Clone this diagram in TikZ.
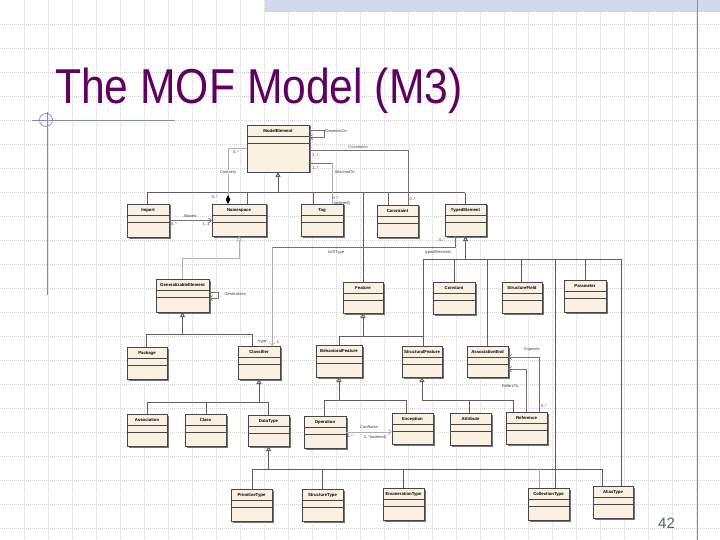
\documentclass[tikz,border=0pt]{standalone}
\usepackage{fontspec}
\setmainfont{Liberation Sans}
\usetikzlibrary{arrows.meta,calc}
\definecolor{boxfill}{RGB}{250,241,226}
\definecolor{boxline}{RGB}{70,70,70}
\definecolor{genline}{RGB}{95,95,95}
\definecolor{asline}{RGB}{115,115,115}
\definecolor{lightline}{RGB}{175,175,175}
\definecolor{gridc}{RGB}{212,212,212}
\definecolor{titlec}{RGB}{96,0,96}
\definecolor{slate}{RGB}{125,140,185}
\definecolor{bandc}{RGB}{208,218,236}
\definecolor{pagec}{RGB}{85,95,120}
\tikzset{
 umlbox/.style={draw=boxline, fill=boxfill, line width=0.7pt, inner sep=0pt, outer sep=0pt, rectangle},
 boxshadow/.style={fill=black!55},
 divider/.style={draw=boxline, line width=0.6pt},
 btitle/.style={font=\fontsize{4.3}{5}\selectfont\bfseries, inner sep=0pt, text=black},
 gen/.style={draw=genline, line width=1pt},
 asc/.style={draw=asline, line width=0.7pt},
 lasc/.style={draw=lightline, line width=0.7pt},
 gentip/.style={-{Triangle[fill=white, length=5pt, width=5pt]}},
 navtip/.style={-{Straight Barb[length=3pt, width=5pt]}},
 lbl/.style={font=\fontsize{4}{4.5}\selectfont, inner sep=0.3pt, text=black!75},
 gridl/.style={draw=gridc, line width=0.5pt, dash pattern=on 0.7pt off 1.3pt},
}
\newcommand{\umlcls}[6]{%
 \fill[boxshadow] (#2+1.5,#3+1.5) rectangle (#4+1.5,#5+1.5);
 \node[umlbox, anchor=north west, minimum width={(#4-#2)*1pt}, minimum height={(#5-#3)*1pt}] (#1) at (#2,#3) {};
 \draw[divider] ([yshift=-11.5pt]#1.north west) -- ([yshift=-11.5pt]#1.north east);
 \draw[divider] ([yshift=-18pt]#1.north west) -- ([yshift=-18pt]#1.north east);
 \node[btitle] (#1-t) at ([yshift=-6pt]#1.north) {#6};
}
\begin{document}
\begin{tikzpicture}[x=1pt, y=-1pt]
\useasboundingbox (0,0) rectangle (720,540);
\fill[white] (0,0) rectangle (720,540);
% grid
\foreach \gx in {24,48,...,696} \draw[gridl] (\gx,0) -- (\gx,540);
\foreach \gy in {24,48,...,528} \draw[gridl] (0,\gy) -- (720,\gy);
% top band and slide decorations
\fill[bandc] (265,0) rectangle (720,12);
\draw[slate, line width=1pt] (697,0) -- (697,540);
\draw[slate, line width=0.9pt] (32,120) -- (175,120);
\draw[slate, line width=0.9pt] (47,112) -- (47,295);
\draw[slate, line width=0.7pt] (46,120) circle (6.5);
% title and page number
\node[anchor=base west, inner sep=0pt, text=titlec, font=\fontsize{49}{58}\selectfont] (title) at (55,104) {\scalebox{0.87}[1]{The MOF Model (M3)}};
\node[anchor=base west, inner sep=0pt, text=pagec, font=\fontsize{15}{18}\selectfont] (pnum) at (658,528) {42};
% classes
\umlcls{ModelElement}{247}{125}{309}{172}{ModelElement}
\umlcls{Import}{127}{204}{169}{237}{Import}
\umlcls{Namespace}{212}{204}{266}{236}{Namespace}
\umlcls{Tag}{301}{204}{343}{236}{Tag}
\umlcls{Constraint}{377}{205}{418}{237}{Constraint}
\umlcls{TypedElement}{445}{204}{486}{236}{TypedElement}
\umlcls{GeneralizableElement}{156}{279}{209}{312}{GeneralizableElement}
\umlcls{Feature}{343}{282}{383}{313}{Feature}
\umlcls{Constant}{433}{282}{475}{314}{Constant}
\umlcls{StructureField}{502}{282}{542}{313}{StructureField}
\umlcls{Parameter}{564}{280}{606}{312}{Parameter}
\umlcls{Package}{127}{347}{167}{379}{Package}
\umlcls{Classifier}{238}{346}{280}{379}{Classifier}
\umlcls{BehavioralFeature}{316}{345}{362}{377}{BehavioralFeature}
\umlcls{StructuralFeature}{402}{346}{442}{377}{StructuralFeature}
\umlcls{AssociationEnd}{467}{346}{508}{377}{AssociationEnd}
\umlcls{Association}{127}{414}{167}{446}{Association}
\umlcls{Class}{185}{414}{226}{446}{Class}
\umlcls{DataType}{248}{415}{289}{446}{DataType}
\umlcls{Operation}{304}{416}{346}{448}{Operation}
\umlcls{Exception}{392}{413}{433}{444}{Exception}
\umlcls{Attribute}{450}{413}{491}{445}{Attribute}
\umlcls{Reference}{506}{412}{547}{444}{Reference}
\umlcls{PrimitiveType}{231}{489}{272}{521}{PrimitiveType}
\umlcls{StructureType}{302}{489}{343}{521}{StructureType}
\umlcls{EnumerationType}{383}{488}{424}{520}{EnumerationType}
\umlcls{CollectionType}{528}{488}{569}{520}{CollectionType}
\umlcls{AliasType}{593}{486}{633}{518}{AliasType}
% ModelElement generalization
\coordinate (gMeL) at (147,193);
\coordinate (gMe) at (278,193);
\coordinate (gMeR) at (465,193);
\coordinate (dNs) at (247,193);
\coordinate (dTag) at (313,193);
\coordinate (dFe) at (363,193);
\coordinate (dCo) at (388,193);
\draw[gen] (gMeL) -- (gMeR);
\draw[gen, gentip] (gMe) -- (ModelElement.south);
\draw[gen] (gMeL) -- (gMeL |- Import.north);
\draw[gen] (dNs) -- (dNs |- Namespace.north);
\draw[gen] (dTag) -- (dTag |- Tag.north);
\draw[gen] (dFe) -- (dFe |- Feature.north);
\draw[gen] (dCo) -- (dCo |- Constraint.north);
\draw[gen] (gMeR) -- (gMeR |- TypedElement.north);
% Depends On
\draw[asc, navtip] ([yshift=-5pt]ModelElement.north east) -- ++(15,0) -- ++(0,7) -- ([yshift=-12pt]ModelElement.north east);
% Constrains
\coordinate (cnA) at (408,150);
\draw[asc] (ModelElement.east |- cnA) -- (cnA) -- (cnA |- Constraint.north);
% AttachedTo
\coordinate (atA) at (332,163);
\draw[asc] (ModelElement.east |- atA) -- (atA);
\draw[lasc] (atA) -- (atA |- Tag.north);
% Contains
\coordinate (ctA) at (228,148);
\draw[lasc] (ModelElement.west |- ctA) -- (ctA);
\draw[lasc, -{Diamond[length=9pt, width=4.5pt, fill=black, color=black]}] (ctA) -- (ctA |- Namespace.north);
% Aliases
\draw[asc, navtip] (Import.east) -- (Import.east -| Namespace.west);
% Namespace generalization
\draw[lasc, gentip] (GeneralizableElement.north) -- ++(0,-21) -| (Namespace.south);
% IsOfType
\coordinate (ioA) at (455,247);
\coordinate (ioB) at (272,247);
\draw[asc] (ioA |- TypedElement.south) -- (ioA) -- (ioB);
\draw[lasc, navtip] (ioB) -- (ioB |- Classifier.north);
% TypedElement generalization
\coordinate (gTeL) at (423,259);
\coordinate (gTeR) at (621,259);
\coordinate (dCn) at (454,259);
\coordinate (dAe) at (487,259);
\coordinate (dSf) at (521,259);
\coordinate (dCt) at (555,259);
\coordinate (dPa) at (585,259);
\draw[gen] (gTeL) -- (gTeR);
\draw[gen, gentip] (gTeL -| TypedElement.south) -- (TypedElement.south);
\draw[gen] (gTeL) -- (gTeL |- StructuralFeature.north);
\draw[gen] (dCn) -- (dCn |- Constant.north);
\draw[gen] (dAe) -- (dAe |- AssociationEnd.north);
\draw[gen] (dSf) -- (dSf |- StructureField.north);
\draw[gen] (dCt) -- (dCt |- CollectionType.north);
\draw[gen] (dPa) -- (dPa |- Parameter.north);
\draw[gen] (gTeR) -- (gTeR |- AliasType.north);
% Generalizes
\draw[asc, navtip] ([yshift=-13pt]GeneralizableElement.north east) -- ++(9,0) -- ++(0,6) -- ([yshift=-19pt]GeneralizableElement.north east);
% GeneralizableElement generalization
\coordinate (gGeL) at (146,334);
\coordinate (gGeR) at (252,334);
\draw[gen] (gGeL) -- (gGeR);
\draw[gen, gentip] (gGeL -| GeneralizableElement.south) -- (GeneralizableElement.south);
\draw[gen] (gGeL) -- (gGeL |- Package.north);
\draw[gen] (gGeR) -- (gGeR |- Classifier.north);
% Feature generalization
\coordinate (gFeL) at (339,336);
\coordinate (gFeR) at (423,336);
\draw[gen] (gFeL) -- (gFeR);
\draw[gen, gentip] (gFeL -| Feature.south) -- (Feature.south);
\draw[gen] (gFeL) -- (gFeL |- BehavioralFeature.north);
% Classifier generalization
\coordinate (gClL) at (147,402);
\coordinate (dCl) at (206,402);
\coordinate (gClR) at (268,402);
\draw[gen] (gClL) -- (gClR);
\draw[gen, gentip] (gClL -| Classifier.south) -- (Classifier.south);
\draw[gen] (gClL) -- (gClL |- Association.north);
\draw[gen] (dCl) -- (dCl |- Class.north);
\draw[gen] (gClR) -- (gClR |- DataType.north);
% BehavioralFeature generalization
\coordinate (gBfL) at (324,400);
\coordinate (gBfR) at (406,400);
\draw[gen] (gBfL) -- (gBfR);
\draw[gen, gentip] (gBfL -| BehavioralFeature.south) -- (BehavioralFeature.south);
\draw[gen] (gBfL) -- (gBfL |- Operation.north);
\draw[gen] (gBfR) -- (gBfR |- Exception.north);
% StructuralFeature generalization
\coordinate (gSfL) at (422,400);
\coordinate (dAt) at (469,400);
\coordinate (gSfR) at (513,400);
\draw[gen] (gSfL) -- (gSfR);
\draw[gen, gentip] (gSfL) -- (StructuralFeature.south);
\draw[gen] (dAt) -- (dAt |- Attribute.north);
\draw[gen] (gSfR) -- (gSfR |- Reference.north);
% Exposes / RefersTo
\coordinate (exA) at (539,357);
\coordinate (rfA) at (526,369);
\draw[asc, navtip] (exA |- Reference.north) -- (exA) -- (exA -| AssociationEnd.east);
\draw[asc, navtip] (rfA |- Reference.north) -- (rfA) -- (rfA -| AssociationEnd.east);
% CanRaise
\draw[lasc, navtip] (Operation.east) -- (Operation.east -| Exception.west);
% DataType generalization
\coordinate (gDtL) at (252,469);
\coordinate (dSt) at (322,469);
\coordinate (dEn) at (403,469);
\coordinate (dCo2) at (539,469);
\coordinate (gDtR) at (602,469);
\draw[gen] (gDtL) -- (gDtR);
\draw[gen, gentip] (gDtL -| DataType.south) -- (DataType.south);
\draw[gen] (gDtL) -- (gDtL |- PrimitiveType.north);
\draw[gen] (dSt) -- (dSt |- StructureType.north);
\draw[gen] (dEn) -- (dEn |- EnumerationType.north);
\draw[lasc] (dCo2) -- (dCo2 |- CollectionType.north);
\draw[gen] (gDtR) -- (gDtR |- AliasType.north);
% labels
\node[lbl, anchor=west] (l1) at (324,131) {/DependsOn};
\node[lbl] (l2) at (358,147) {Constrains};
\node[lbl, anchor=west] (l3) at (312,155) {1..*};
\node[lbl, anchor=west] (l4) at (312,168) {1..*};
\node[lbl, anchor=west] (l5) at (334,172) {AttachedTo};
\node[lbl] (l6) at (236,152) {0..*};
\node[lbl, fill=white] (l7) at (228,172) {Contains};
\node[lbl] (l8) at (215,197) {0..*};
\node[lbl, anchor=west] (l9) at (332,198) {0..*};
\node[lbl, anchor=west] (l10) at (333,203.5) {\{ordered\}};
\node[lbl, anchor=west] (l11) at (409,199) {0..*};
\node[lbl] (l12) at (190,216) {Aliases};
\node[lbl] (l13) at (174,224) {0..*};
\node[lbl] (l14) at (206,224) {1..1};
\node[lbl] (l15) at (336,252) {IsOfType};
\node[lbl] (l16) at (438,252) {typedElements};
\node[lbl] (l17) at (442,240) {0..*};
\node[lbl, anchor=west] (l18) at (224,294) {Generalizes};
\node[lbl] (l19) at (262,342) {+type};
\node[lbl] (l20) at (278,342) {1};
\node[lbl] (l21) at (532,350) {Exposes};
\node[lbl] (l22) at (510,386) {RefersTo};
\node[lbl] (l23) at (544,406) {0..*};
\node[lbl] (l24) at (369,427) {CanRaise};
\node[lbl] (l25) at (375,437) {0..*\{ordered\}};
\node[lbl] (l26) at (350,436) {0..*};
\end{tikzpicture}
\end{document}
